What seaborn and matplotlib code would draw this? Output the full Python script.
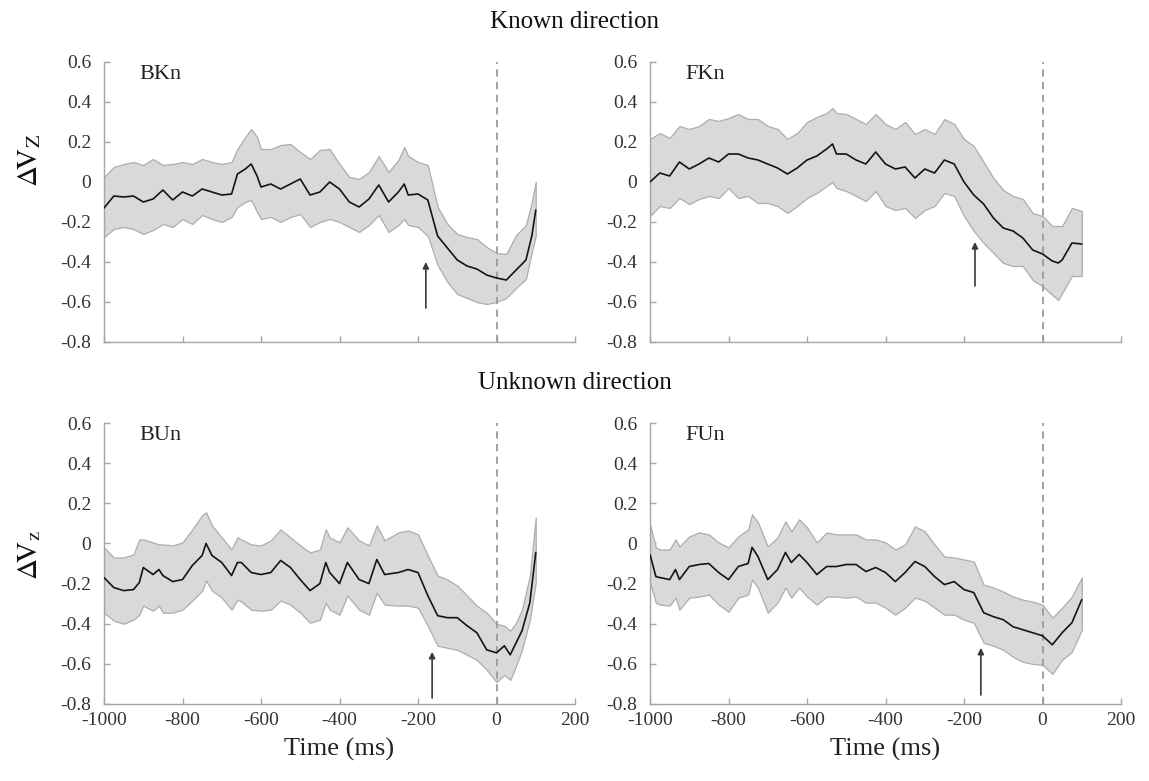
import numpy as np
import pandas as pd
import matplotlib
matplotlib.use("Agg")
import matplotlib.pyplot as plt
import seaborn as sns

# ---------------- data ----------------
# BKn
t_bkn = [-1000, -975, -950, -925, -900, -875, -850, -825, -800, -775, -750, -725, -700, -675,
         -660, -640, -625, -610, -600, -575, -550, -525, -500, -475, -450, -425, -400, -375,
         -350, -325, -300, -275, -250, -235, -225, -200, -175, -150, -125, -100, -75, -50,
         -25, 0, 25, 50, 75, 90, 100]
m_bkn = [-0.13, -0.07, -0.075, -0.07, -0.10, -0.085, -0.04, -0.09, -0.05, -0.07, -0.035, -0.05, -0.065, -0.06,
         0.04, 0.065, 0.09, 0.03, -0.025, -0.01, -0.035, -0.01, 0.015, -0.065, -0.05, 0.0, -0.035, -0.10,
         -0.125, -0.085, -0.015, -0.10, -0.05, -0.01, -0.065, -0.06, -0.09, -0.27, -0.33, -0.39, -0.42, -0.435,
         -0.465, -0.48, -0.49, -0.44, -0.39, -0.27, -0.14]
hi_bkn = [0.025, 0.075, 0.09, 0.10, 0.085, 0.115, 0.085, 0.09, 0.10, 0.09, 0.115, 0.10, 0.09, 0.10,
          0.165, 0.225, 0.265, 0.225, 0.165, 0.165, 0.185, 0.19, 0.15, 0.115, 0.16, 0.165, 0.09, 0.025,
          0.015, 0.05, 0.13, 0.05, 0.11, 0.175, 0.13, 0.10, 0.085, -0.125, -0.21, -0.26, -0.275, -0.285,
          -0.325, -0.355, -0.36, -0.265, -0.215, -0.10, 0.0]
lo_bkn = [-0.275, -0.235, -0.225, -0.235, -0.26, -0.24, -0.21, -0.225, -0.185, -0.21, -0.165, -0.185, -0.20, -0.175,
          -0.125, -0.10, -0.09, -0.15, -0.185, -0.175, -0.20, -0.175, -0.16, -0.225, -0.20, -0.185, -0.20, -0.225,
          -0.25, -0.215, -0.165, -0.25, -0.215, -0.185, -0.215, -0.225, -0.27, -0.415, -0.50, -0.56, -0.58, -0.60,
          -0.61, -0.60, -0.58, -0.53, -0.485, -0.35, -0.27]

# FKn
t_fkn = [-1000, -975, -950, -925, -900, -875, -850, -825, -800, -775, -750, -725, -700, -675,
         -650, -625, -600, -575, -550, -535, -525, -500, -475, -450, -425, -400, -375, -350,
         -325, -300, -275, -250, -225, -200, -175, -150, -125, -100, -75, -50, -25, 0, 25, 40,
         50, 75, 100]
m_fkn = [0.0, 0.045, 0.03, 0.10, 0.065, 0.09, 0.12, 0.10, 0.14, 0.14, 0.12, 0.11, 0.09, 0.07,
         0.04, 0.07, 0.11, 0.13, 0.165, 0.19, 0.14, 0.14, 0.11, 0.09, 0.15, 0.09, 0.065, 0.075,
         0.02, 0.065, 0.045, 0.11, 0.09, 0.0, -0.065, -0.11, -0.18, -0.23, -0.245, -0.28, -0.34, -0.36, -0.395, -0.405,
         -0.39, -0.305, -0.31]
hi_fkn = [0.215, 0.245, 0.22, 0.28, 0.265, 0.28, 0.315, 0.305, 0.32, 0.34, 0.315, 0.315, 0.28, 0.265,
          0.215, 0.245, 0.30, 0.325, 0.345, 0.37, 0.345, 0.34, 0.315, 0.29, 0.34, 0.29, 0.265, 0.30,
          0.24, 0.265, 0.24, 0.315, 0.29, 0.215, 0.18, 0.10, 0.02, -0.04, -0.07, -0.085, -0.155, -0.17, -0.22, -0.22,
          -0.22, -0.13, -0.145]
lo_fkn = [-0.17, -0.12, -0.13, -0.08, -0.11, -0.085, -0.07, -0.08, -0.03, -0.08, -0.07, -0.105, -0.105, -0.12,
          -0.155, -0.12, -0.08, -0.055, -0.02, 0.0, -0.03, -0.045, -0.07, -0.095, -0.045, -0.12, -0.14, -0.13,
          -0.18, -0.14, -0.12, -0.055, -0.07, -0.17, -0.245, -0.305, -0.355, -0.405, -0.42, -0.42, -0.49, -0.52, -0.565, -0.59,
          -0.555, -0.47, -0.47]

# BUn
t_bun = [-1000, -975, -950, -925, -910, -900, -875, -860, -850, -825, -800, -775, -750, -740,
         -725, -700, -675, -660, -650, -625, -600, -575, -550, -525, -500, -475, -450, -435,
         -425, -400, -380, -350, -325, -305, -285, -250, -225, -200, -175, -150, -125, -100,
         -75, -50, -25, 0, 20, 35, 50, 65, 85, 100]
m_bun = [-0.17, -0.22, -0.235, -0.23, -0.195, -0.12, -0.155, -0.13, -0.16, -0.19, -0.18, -0.11, -0.06, 0.0,
         -0.06, -0.095, -0.16, -0.095, -0.095, -0.145, -0.155, -0.145, -0.085, -0.12, -0.18, -0.235, -0.20, -0.095,
         -0.145, -0.20, -0.095, -0.18, -0.20, -0.08, -0.155, -0.145, -0.13, -0.145, -0.26, -0.36, -0.37, -0.37,
         -0.41, -0.445, -0.53, -0.545, -0.51, -0.555, -0.495, -0.435, -0.295, -0.045]
hi_bun = [-0.02, -0.07, -0.07, -0.055, 0.02, 0.02, 0.005, -0.005, -0.005, -0.01, 0.005, 0.07, 0.14, 0.155,
          0.09, 0.03, -0.03, 0.03, 0.02, -0.005, -0.01, 0.015, 0.07, 0.03, -0.01, -0.045, -0.03, 0.07,
          0.03, 0.005, 0.08, 0.015, -0.01, 0.09, 0.015, 0.055, 0.065, 0.045, -0.06, -0.16, -0.18, -0.21,
          -0.26, -0.31, -0.345, -0.40, -0.41, -0.435, -0.395, -0.33, -0.16, 0.13]
lo_bun = [-0.345, -0.385, -0.40, -0.38, -0.355, -0.31, -0.335, -0.31, -0.345, -0.345, -0.33, -0.285, -0.235, -0.185,
          -0.235, -0.27, -0.33, -0.28, -0.29, -0.33, -0.335, -0.33, -0.285, -0.305, -0.345, -0.395, -0.38, -0.295,
          -0.33, -0.355, -0.26, -0.33, -0.355, -0.245, -0.305, -0.31, -0.31, -0.32, -0.41, -0.51, -0.52, -0.53,
          -0.555, -0.58, -0.63, -0.69, -0.655, -0.68, -0.61, -0.53, -0.38, -0.195]

# FUn
t_fun = [-1000, -985, -975, -950, -935, -925, -900, -875, -850, -825, -800, -775, -750, -740,
         -725, -700, -675, -655, -640, -620, -600, -575, -550, -525, -500, -475, -450, -425,
         -400, -375, -350, -325, -300, -275, -250, -225, -200, -175, -150, -125, -100, -75,
         -50, -25, 0, 25, 50, 75, 100]
m_fun = [-0.055, -0.165, -0.17, -0.18, -0.13, -0.18, -0.115, -0.105, -0.10, -0.145, -0.18, -0.115, -0.10, -0.02,
         -0.065, -0.18, -0.13, -0.045, -0.095, -0.055, -0.095, -0.155, -0.115, -0.115, -0.105, -0.105, -0.14, -0.12,
         -0.145, -0.19, -0.145, -0.09, -0.115, -0.165, -0.205, -0.19, -0.23, -0.245, -0.345, -0.365, -0.38, -0.415,
         -0.43, -0.445, -0.46, -0.505, -0.445, -0.395, -0.28]
hi_fun = [0.095, -0.02, -0.03, -0.03, 0.02, -0.015, 0.035, 0.055, 0.045, 0.005, -0.02, 0.035, 0.07, 0.145,
          0.105, -0.015, 0.03, 0.11, 0.06, 0.12, 0.08, 0.005, 0.055, 0.045, 0.045, 0.045, 0.02, 0.02,
          0.005, -0.03, -0.005, 0.085, 0.06, -0.005, -0.065, -0.07, -0.08, -0.09, -0.205, -0.22, -0.24, -0.265,
          -0.28, -0.29, -0.305, -0.37, -0.32, -0.265, -0.17]
lo_fun = [-0.195, -0.295, -0.305, -0.31, -0.27, -0.33, -0.27, -0.265, -0.255, -0.305, -0.34, -0.27, -0.255, -0.18,
          -0.22, -0.345, -0.295, -0.22, -0.27, -0.22, -0.265, -0.305, -0.265, -0.265, -0.27, -0.265, -0.295, -0.295,
          -0.32, -0.355, -0.32, -0.27, -0.285, -0.32, -0.355, -0.355, -0.38, -0.395, -0.495, -0.51, -0.53, -0.565,
          -0.59, -0.60, -0.605, -0.65, -0.58, -0.54, -0.43]

panel_names = ["BKn", "FKn", "BUn", "FUn"]
arrow_times = [-180, -172, -164, -157]
arrow_tails = [-0.63, -0.52, -0.77, -0.755]
arrow_heads = [-0.40, -0.30, -0.54, -0.52]
row_titles = ["Known direction", "Unknown direction"]
x_ticks = [-1000, -800, -600, -400, -200, 0, 200]
y_ticks = [-0.8, -0.6, -0.4, -0.2, 0.0, 0.2, 0.4, 0.6]
y_ticklabels = ["-0.8", "-0.6", "-0.4", "-0.2", "0", "0.2", "0.4", "0.6"]
x_ticklabels = ["-1000", "-800", "-600", "-400", "-200", "0", "200"]

# ---------------- style ----------------
sns.set_theme(style="white")
plt.rcParams["font.family"] = ["Liberation Serif", "DejaVu Serif"]
plt.rcParams["mathtext.fontset"] = "stix"
plt.rcParams["axes.unicode_minus"] = False

W, H = 1149, 781
fig = plt.figure(figsize=(W / 100, H / 100), dpi=100)

def rect(x0, x1, ytop, ybot):
    return [x0 / W, 1 - ybot / H, (x1 - x0) / W, (ybot - ytop) / H]

rects = [rect(104, 575, 62, 342), rect(650, 1121, 62, 342),
         rect(104, 575, 423, 704), rect(650, 1121, 423, 704)]

data = [(t_bkn, m_bkn, lo_bkn, hi_bkn), (t_fkn, m_fkn, lo_fkn, hi_fkn),
        (t_bun, m_bun, lo_bun, hi_bun), (t_fun, m_fun, lo_fun, hi_fun)]

spine_col = "#a6a6a6"
for i, (name, (t, m, lo, hi)) in enumerate(zip(panel_names, data)):
    ax = fig.add_axes(rects[i])
    ax.fill_between(t, lo, hi, color="#d9d9d9", edgecolor="#adadad", linewidth=0.9, zorder=1)
    df = pd.DataFrame({"t": t, "m": m})
    sns.lineplot(data=df, x="t", y="m", ax=ax, color="#141414", linewidth=1.2, zorder=3)
    ax.axvline(0, color="#9a9a9a", linestyle=(0, (4, 3)), linewidth=1.3, zorder=2)
    ax.annotate("", xy=(arrow_times[i], arrow_heads[i]), xytext=(arrow_times[i], arrow_tails[i]),
                arrowprops=dict(arrowstyle="-|>", color="#3a3a3a", lw=1.2, mutation_scale=9,
                                shrinkA=0, shrinkB=0), zorder=4)
    ax.set_xlim(-1000, 200)
    ax.set_ylim(-0.8, 0.6)
    ax.set_xticks(x_ticks)
    ax.set_yticks(y_ticks)
    ax.set_yticklabels(y_ticklabels)
    if i >= 2:
        ax.set_xticklabels(x_ticklabels)
        ax.set_xlabel("Time (ms)", fontsize=19, color="#222222", labelpad=6)
    else:
        ax.set_xticklabels([])
        ax.set_xlabel("")
    ax.set_ylabel("")
    for s in ["top", "right"]:
        ax.spines[s].set_visible(False)
    for s in ["left", "bottom"]:
        ax.spines[s].set_color(spine_col)
        ax.spines[s].set_linewidth(1.0)
    ax.tick_params(axis="both", which="major", bottom=True, left=True, top=False, right=False,
                   direction="in", length=4, width=1, color=spine_col,
                   labelsize=14, labelcolor="#333333")
    ax.tick_params(axis="y", pad=9)
    ax.tick_params(axis="x", pad=6)
    ax.text(0.076, 0.955, name, transform=ax.transAxes, fontsize=16, color="#222222",
            ha="left", va="center")

fig.text(0.5, 1 - 22 / H, row_titles[0], ha="center", va="center", fontsize=18, color="#111111")
fig.text(0.5, 1 - 383 / H, row_titles[1], ha="center", va="center", fontsize=18, color="#111111")
fig.text(30 / W, 1 - 160 / H, r"$\Delta\!\mathrm{V}_\mathrm{Z}$", rotation=90, ha="center", va="center",
         fontsize=21, color="#111111")
fig.text(30 / W, 1 - 555 / H, r"$\Delta\!\mathrm{V}_\mathrm{z}$", rotation=90, ha="center", va="center",
         fontsize=21, color="#111111")

fig.savefig("out.png", dpi=100, facecolor="white")
